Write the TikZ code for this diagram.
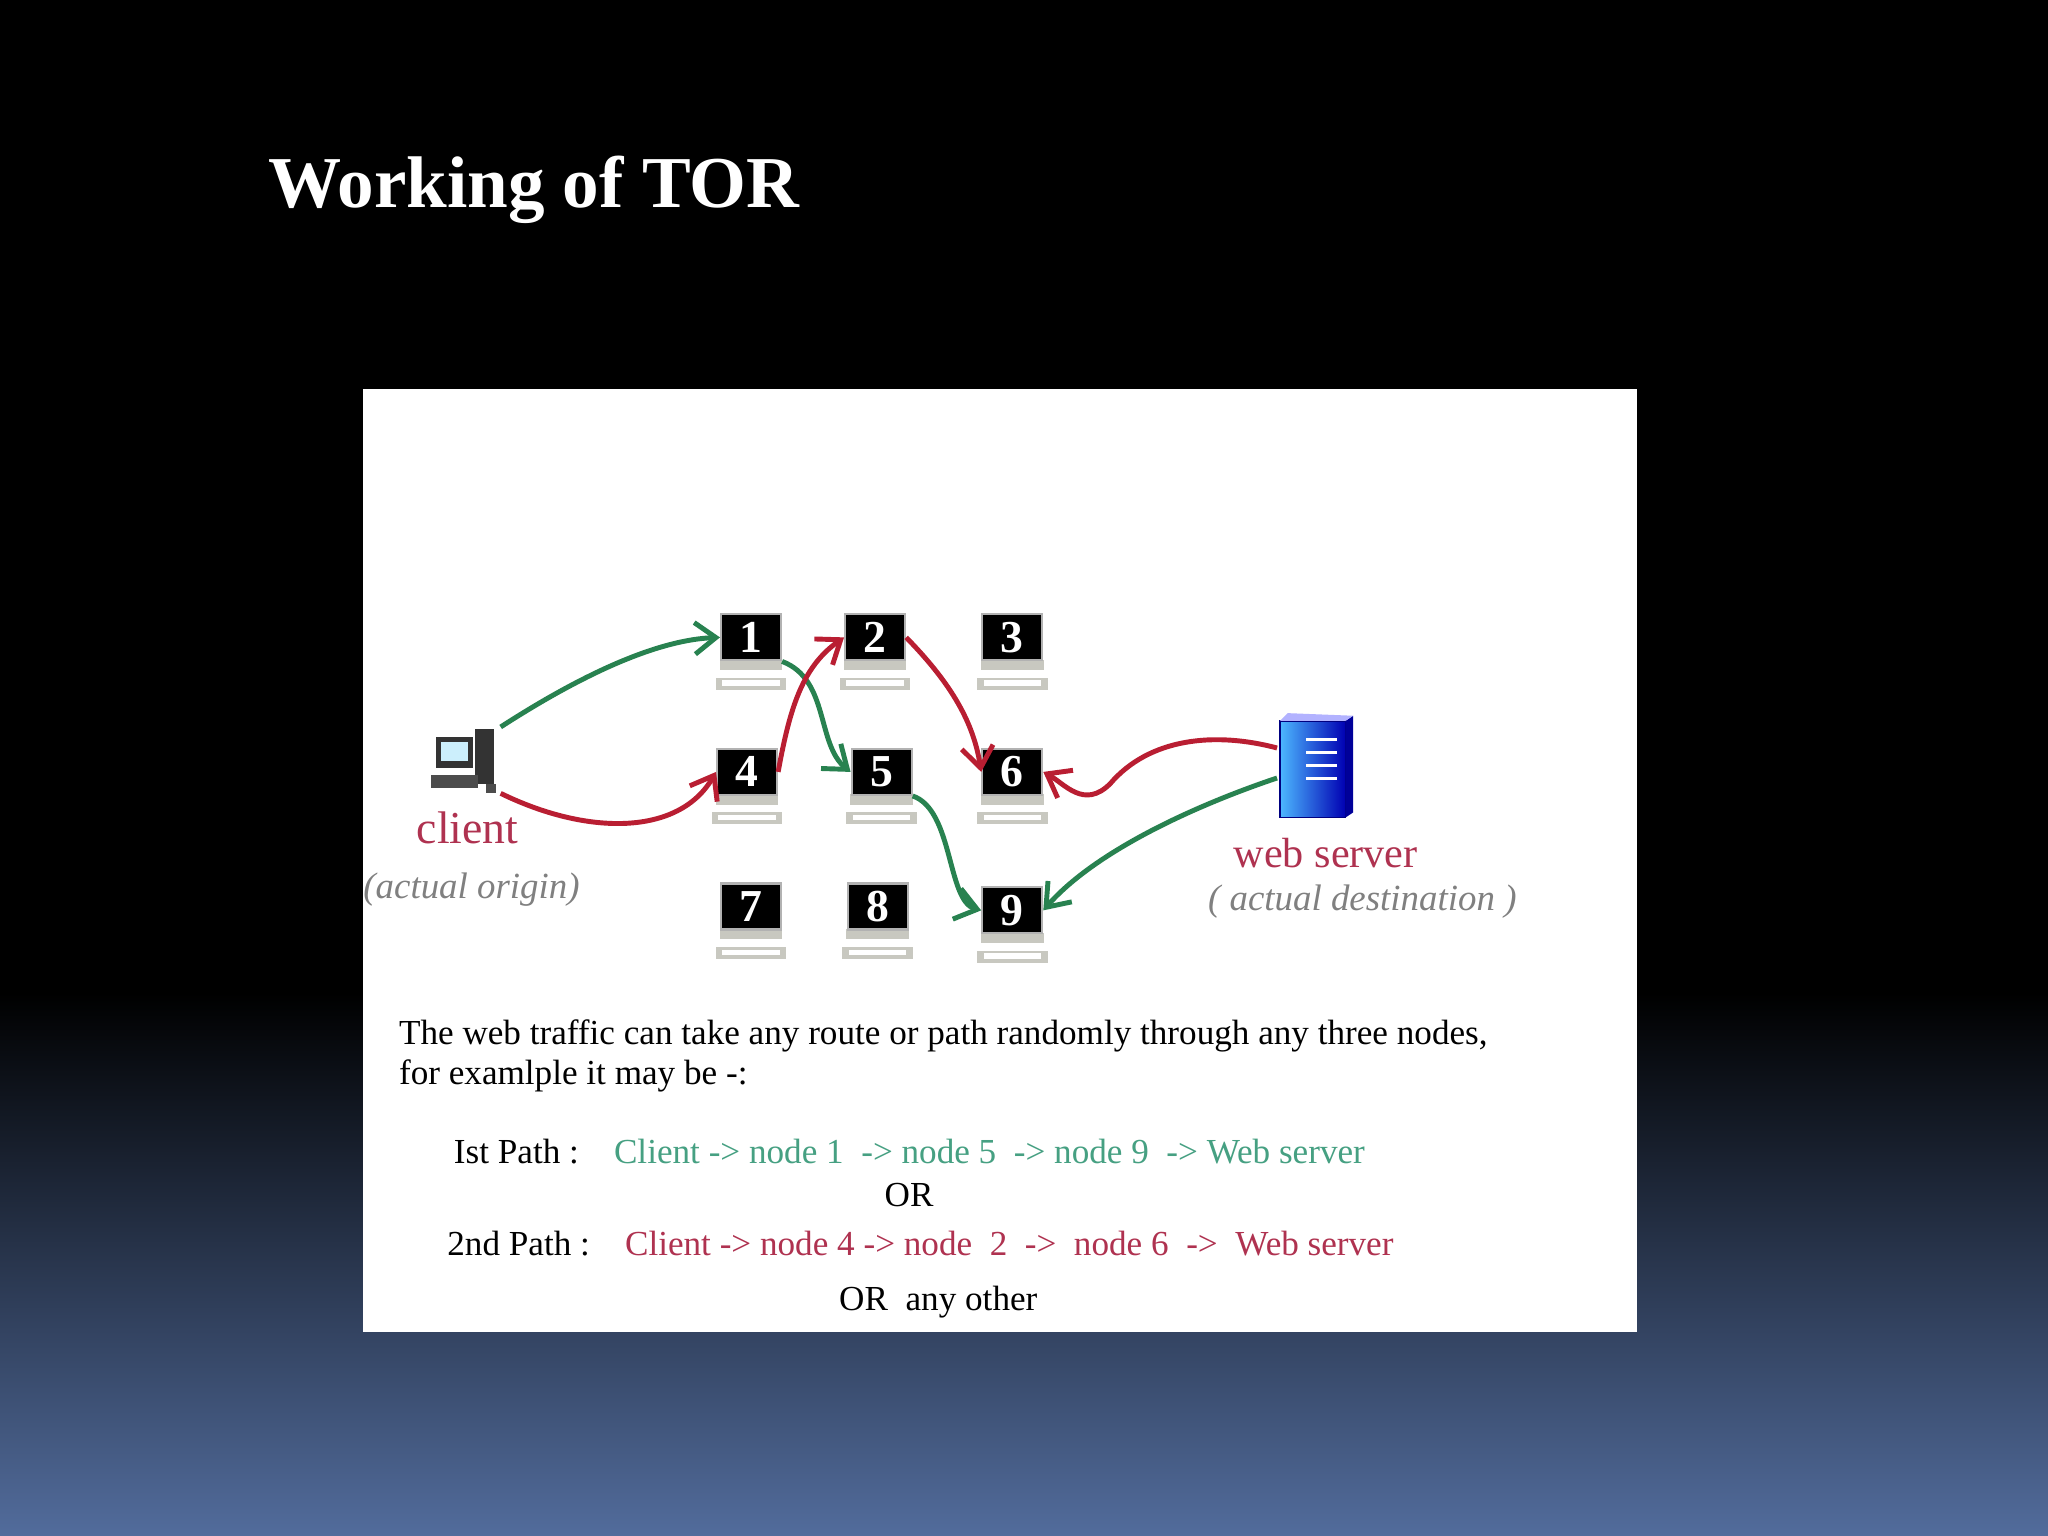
\documentclass[tikz,border=0pt]{standalone}
\usepackage{fontspec}
\setmainfont{Liberation Serif}
\usetikzlibrary{arrows.meta}
\definecolor{bgblue}{RGB}{82,108,156}
\definecolor{grn}{RGB}{40,130,80}
\definecolor{rd}{RGB}{185,30,50}
\definecolor{tgrn}{RGB}{70,160,130}
\definecolor{trd}{RGB}{175,50,80}
\definecolor{basec}{RGB}{200,200,192}
\tikzset{
 screen/.style={fill=black,draw=gray!60,line width=0.6pt,minimum width=0.6cm,minimum height=0.46cm,inner sep=0pt,text=white,font=\bfseries\fontsize{13}{13}\selectfont},
 garr/.style={draw=grn,line width=1.4pt,-{Straight Barb[length=6pt,width=9pt]}},
 rarr/.style={draw=rd,line width=1.4pt,-{Straight Barb[length=6pt,width=9pt]}},
 body/.style={font=\fontsize{10}{12}\selectfont,anchor=west,inner sep=0pt}
}
\begin{document}
\begin{tikzpicture}[x=0.013061cm,y=-0.013061cm]
\useasboundingbox (0,0) rectangle (1568,1176);
\fill[black] (0,0) rectangle (1568,1176);
\shade[top color=black,bottom color=bgblue] (0,760) rectangle (1568,1176);
\node[text=white,font=\bfseries\fontsize{20.8}{21}\selectfont,anchor=west,inner sep=0pt] (title) at (205,145) {Working of TOR};
\fill[white] (278,298) rectangle (1253,1020);
% monitors
\foreach \n/\x/\y in {1/575/488,2/670/488,3/775/488,4/572/591,5/675/591,6/775/591,7/575/694,8/672/694,9/775/697}{
  \fill[basec] (\x-24,\y+17) rectangle (\x+24,\y+25);
  \fill[basec] (\x-27,\y+31) rectangle (\x+27,\y+40);
  \fill[white] (\x-22,\y+33) rectangle (\x+22,\y+37);
  \node[screen] (m\n) at (\x,\y) {\n};
}
% client computer
\node[inner sep=0pt,minimum width=0.7cm,minimum height=0.65cm] (client) at (356,582) {};
\fill[black!80] (334,564) rectangle (362,588);
\fill[white!80!cyan] (338,568) rectangle (358,583);
\fill[black!80] (364,558) rectangle (378,600);
\fill[black!70] (330,593) rectangle (366,603);
\fill[black!70] (372,600) rectangle (380,607);
\node[text=trd,font=\fontsize{13}{13}\selectfont] (clientlbl) at (358,634) {client};
\node[text=gray,font=\itshape\fontsize{10.5}{11}\selectfont] (origin) at (361,681) {(actual origin)};
% server
\node[inner sep=0pt,minimum width=0.75cm,minimum height=1.05cm] (server) at (1007,588) {};
\shade[left color=blue!40!cyan!70,right color=blue!70!black,draw=blue!50!black] (980,552) rectangle (1030,626);
\fill[blue!60!black] (1030,552) -- (1036,548) -- (1036,622) -- (1030,626) -- cycle;
\fill[blue!30!white] (980,552) -- (986,546) -- (1036,548) -- (1030,552) -- cycle;
\foreach \yy in {566,576,586,596}{\draw[white,line width=1pt] (1000,\yy) -- (1024,\yy);}
\node[text=trd,font=\fontsize{12}{12}\selectfont] (wslbl) at (1015,653) {web server};
\node[text=gray,font=\itshape\fontsize{10.5}{11}\selectfont] (dest) at (1043,690) {( actual destination )};
% green path
\draw[garr] (client.north east) .. controls (440,520) and (500,490) .. (m1.west);
\draw[garr] (m1.south east) .. controls (635,520) and (625,570) .. (m5.west);
\draw[garr] (m5.south east) .. controls (730,620) and (725,690) .. (m9.west);
\draw[garr] ([yshift=-0.1cm]server.west) .. controls (920,615) and (840,650) .. (m9.east);
% red path
\draw[rarr] (client.south east) .. controls (450,640) and (520,640) .. (m4.west);
\draw[rarr] (m4.east) .. controls (605,540) and (615,510) .. (m2.west);
\draw[rarr] (m2.east) .. controls (725,520) and (745,550) .. (m6.west);
\draw[rarr] ([yshift=0.2cm]server.west) .. controls (930,560) and (880,565) .. (850,600) .. controls (830,620) and (815,600) .. (m6.east);
% text
\node[body] (t1) at (305,793) {The web traffic can take any route or path randomly through any three nodes,};
\node[body] (t2) at (305,824) {for examlple it may be -:};
\node[body] (p1) at (347,882) {Ist Path :\quad\textcolor{tgrn}{Client -> node 1 \ -> node 5 \ -> node 9 \ -> Web server}};
\node[font=\fontsize{10}{12}\selectfont] (or1) at (696,915) {OR};
\node[body] (p2) at (342,952) {2nd Path :\quad\textcolor{trd}{Client -> node 4 -> node \ 2 \ -> \ node 6 \ -> \ Web server}};
\node[body] (or2) at (642,997) {OR \ any other};
\end{tikzpicture}
\end{document}
